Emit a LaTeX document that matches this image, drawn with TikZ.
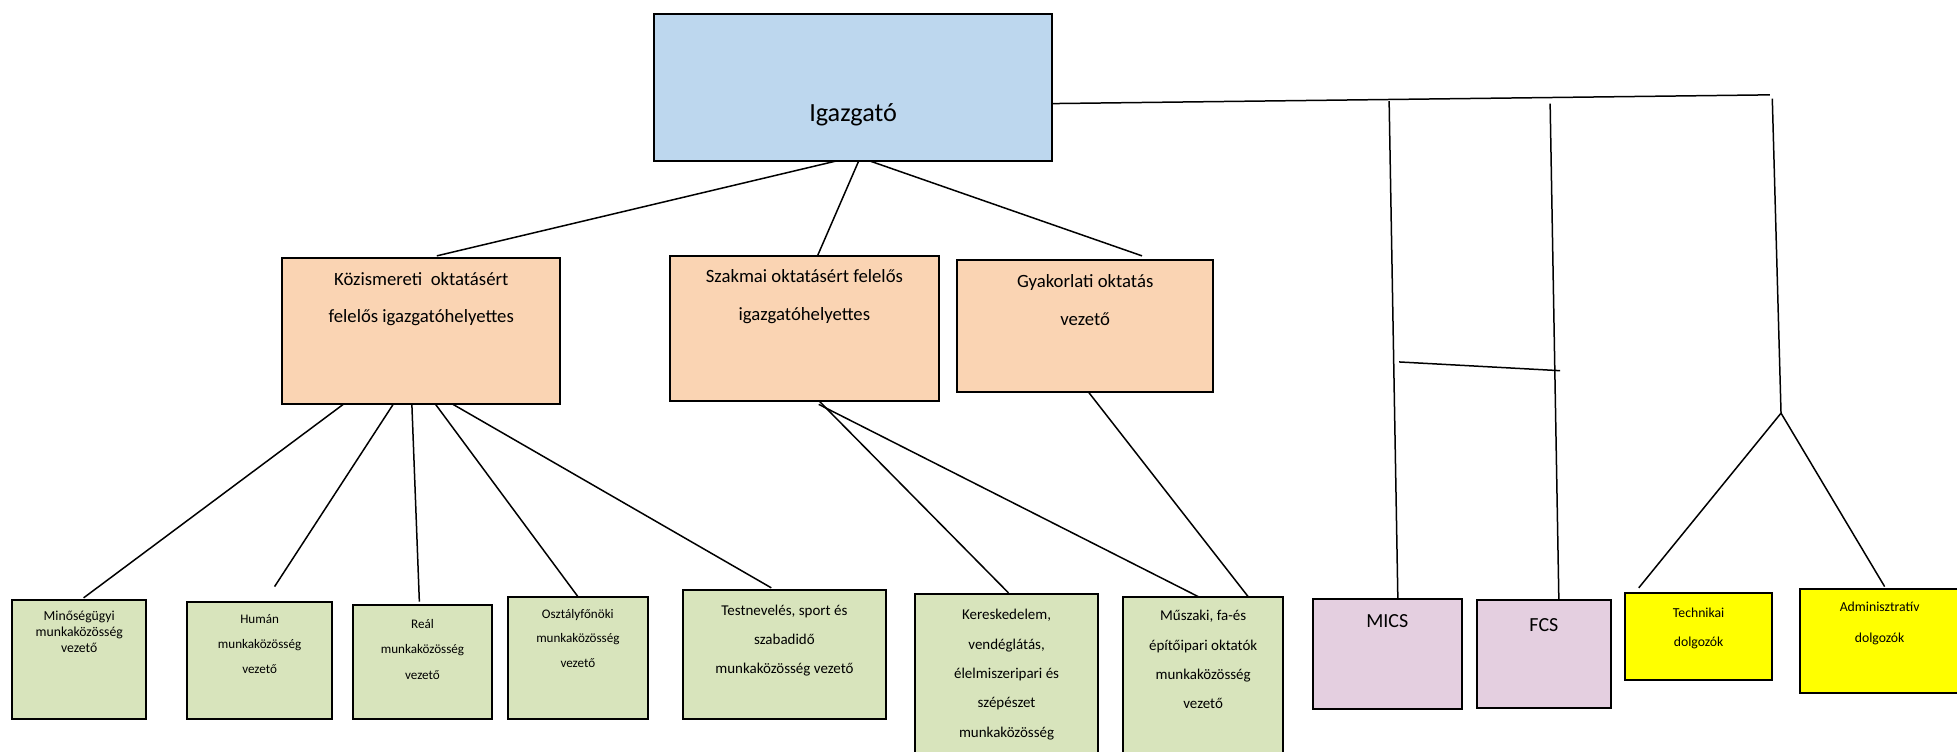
\documentclass[tikz,border=0pt]{standalone}
\usepackage{fontspec}
\setmainfont{Carlito}
\usetikzlibrary{positioning}
\definecolor{igazkek}{HTML}{BDD7EE}
\definecolor{helyettes}{HTML}{FAD4B3}
\definecolor{munkazold}{HTML}{D8E4BC}
\definecolor{csoportlila}{HTML}{E4CFE0}
\definecolor{dolgsarga}{HTML}{FFFF00}
\tikzset{
	doboz/.style={draw, line width=1.6pt, inner sep=0pt, outer sep=0pt},
	felirat/.style={inner sep=0pt, align=center},
	vonal/.style={line width=1.2pt}
}
\newcommand{\betu}[2]{\fontsize{#1}{#2}\selectfont}
\begin{document}
\begin{tikzpicture}[x=1pt, y=-1pt]
	\useasboundingbox (0,0) rectangle (1568,602);
	
	\node[doboz, fill=igazkek, minimum width=319pt, minimum height=118pt] (igaz) at (683.5,70) {};
	\node[felirat, font=\betu{21}{26}, below=72pt of igaz.north] {Igazgató};
	
	\node[doboz, fill=helyettes, minimum width=223pt, minimum height=117pt] (koz) at (337.5,265.5) {};
	\node[felirat, font=\betu{15}{30}, below=11pt of koz.north] {Közismereti~ oktatásért\\felelős igazgatóhelyettes};
	
	\node[doboz, fill=helyettes, minimum width=215pt, minimum height=116pt] (szak) at (644.5,263) {};
	\node[felirat, font=\betu{15}{30}, below=11pt of szak.north] {Szakmai oktatásért felelős\\igazgatóhelyettes};
	
	\node[doboz, fill=helyettes, minimum width=205pt, minimum height=106pt] (gyak) at (869.5,261) {};
	\node[felirat, font=\betu{15}{30}, below=12pt of gyak.north] {Gyakorlati oktatás\\vezető};
	
	\node[doboz, fill=munkazold, minimum width=107pt, minimum height=95pt] (minos) at (63.5,528.5) {};
	\node[felirat, font=\betu{11}{13}, below=8pt of minos.north] {Minőségügyi\\munkaközösség\\vezető};
	
	\node[doboz, fill=munkazold, minimum width=116pt, minimum height=94pt] (human) at (208,529) {};
	\node[felirat, font=\betu{10.5}{20}, below=10pt of human.north] {Humán\\munkaközösség\\vezető};
	
	\node[doboz, fill=munkazold, minimum width=111pt, minimum height=91pt] (real) at (338.5,530.5) {};
	\node[felirat, font=\betu{10.5}{20.5}, below=11pt of real.north] {Reál\\munkaközösség\\vezető};
	
	\node[doboz, fill=munkazold, minimum width=112pt, minimum height=98pt] (osztaly) at (463,527) {};
	\node[felirat, font=\betu{10.5}{19.5}, below=10pt of osztaly.north] {Osztályfőnöki\\munkaközösség\\vezető};
	
	\node[doboz, fill=munkazold, minimum width=163pt, minimum height=103pt] (testnev) at (628.5,524.5) {};
	\node[felirat, font=\betu{12}{23}, below=12pt of testnev.north] {Testnevelés, sport és\\szabadidő\\munkaközösség vezető};
	
	\node[doboz, fill=munkazold, minimum width=147pt, minimum height=164pt] (keresk) at (806.5,558) {};
	\node[felirat, font=\betu{12}{23.5}, below=12pt of keresk.north] {Kereskedelem,\\vendéglátás,\\élelmiszeripari és\\szépészet\\munkaközösség};
	
	\node[doboz, fill=munkazold, minimum width=128pt, minimum height=162pt] (muszaki) at (964,559) {};
	\node[felirat, font=\betu{12}{23.5}, below=11pt of muszaki.north] {Műszaki, fa-és\\építőipari oktatók\\munkaközösség\\vezető};
	
	\node[doboz, fill=csoportlila, minimum width=119pt, minimum height=88pt] (mics) at (1111.5,524) {};
	\node[felirat, font=\betu{16}{20}, below=12pt of mics.north] {MICS};
	
	\node[doboz, fill=csoportlila, minimum width=108pt, minimum height=86pt] (fcs) at (1237,524) {};
	\node[felirat, font=\betu{16}{20}, below=14pt of fcs.north] {FCS};
	
	\node[doboz, fill=dolgsarga, minimum width=118pt, minimum height=70pt] (techn) at (1361,510) {};
	\node[felirat, font=\betu{11}{23}, below=12pt of techn.north] {Technikai\\dolgozók};
	
	\node[doboz, fill=dolgsarga, minimum width=128pt, minimum height=83pt] (admin) at (1506,513.5) {};
	\node[felirat, font=\betu{11}{25}, below=10pt of admin.north] {Adminisztratív\\dolgozók};
	
	\coordinate (jobbveg) at (1418,76);
	\coordinate (micsfent) at (1113,81);
	\coordinate (fcsfent) at (1242,83);
	\coordinate (jobbfent) at (1420,79);
	\coordinate (elagazas) at (1427,331);
	\coordinate (kozepbal) at (1121,290);
	\coordinate (kozepjobb) at (1250,297);
	
	\draw[vonal] ([xshift=-13.5pt]igaz.south) -- ([xshift=12.5pt, yshift=2pt]koz.north);
	\draw[vonal] ([xshift=4.5pt]igaz.south) -- ([xshift=10.5pt]szak.north);
	\draw[vonal] ([xshift=13.5pt]igaz.south) -- ([xshift=45.5pt, yshift=3pt]gyak.north);
	\draw[vonal] ([yshift=-13pt]igaz.east) -- (jobbveg);
	\draw[vonal] (micsfent) -- ([xshift=8.5pt]mics.north);
	\draw[vonal] (fcsfent) -- ([xshift=12pt]fcs.north);
	\draw[vonal] (kozepbal) -- (kozepjobb);
	\draw[vonal] (jobbfent) -- (elagazas);
	\draw[vonal] (elagazas) -- ([xshift=-48pt, yshift=4pt]techn.north);
	\draw[vonal] (elagazas) -- ([xshift=4pt, yshift=2pt]admin.north);
	
	\draw[vonal] ([xshift=-62.5pt]koz.south) -- ([xshift=3.5pt, yshift=2pt]minos.north);
	\draw[vonal] ([xshift=-22.5pt]koz.south) -- ([xshift=12pt, yshift=12pt]human.north);
	\draw[vonal] ([xshift=-7.5pt]koz.south) -- ([xshift=-2.5pt, yshift=3pt]real.north);
	\draw[vonal] ([xshift=11.5pt]koz.south) -- (osztaly.north);
	\draw[vonal] ([xshift=25.5pt]koz.south) -- ([xshift=-10.5pt, yshift=2pt]testnev.north);
	
	\draw[vonal] ([xshift=11.5pt]szak.south) -- ([xshift=1.5pt, yshift=1pt]keresk.north);
	\draw[vonal] ([xshift=11.5pt, yshift=-3pt]szak.south) -- ([xshift=-4pt]muszaki.north);
	\draw[vonal] ([xshift=2.5pt]gyak.south) -- ([xshift=36pt]muszaki.north);
\end{tikzpicture}
\end{document}
